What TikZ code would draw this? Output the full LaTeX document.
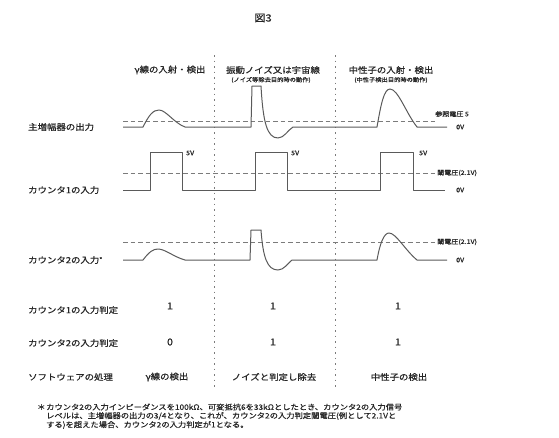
\documentclass[tikz,border=0pt]{standalone}
\usepackage{fontspec}
\setmainfont{Noto Sans CJK JP}[FakeStretch=1.12,FakeBold=0.6]
\definecolor{wavec}{HTML}{5A5A5A}
\definecolor{txt}{HTML}{262626}
\begin{document}
\begin{tikzpicture}[x=1pt,y=-1pt,
  wave/.style={draw=wavec, line width=1pt, line join=round},
  refline/.style={draw=wavec!80, line width=0.7pt, dash pattern=on 4.5pt off 3pt},
  divline/.style={draw=wavec!80, line width=0.8pt, dash pattern=on 1.5pt off 4pt},
  hdr/.style={font=\fontsize{8.4}{9}\selectfont, text=txt, inner sep=0},
  subhdr/.style={font=\fontsize{5.6}{6}\selectfont, text=txt, inner sep=0},
  lbl/.style={font=\fontsize{8.4}{9}\selectfont, text=txt, anchor=west, inner sep=0},
  val/.style={font=\fontsize{9.5}{10}\selectfont, text=txt, inner sep=0},
  volt/.style={font=\fontsize{6.3}{7}\selectfont, text=txt, anchor=west, inner sep=0},
  note/.style={font=\fontsize{7.4}{8}\selectfont, text=txt, anchor=west, inner sep=0}]
\useasboundingbox (0,0) rectangle (559,437);
\fill[white] (0,0) rectangle (559,437);

% title
\node[font=\fontsize{10}{11}\selectfont, text=txt, inner sep=0] (title) at (263,18) {図3};

% dividers
\coordinate (d1t) at (214,55); \coordinate (d1b) at (214,387);
\coordinate (d2t) at (335,55); \coordinate (d2b) at (335,387);
\draw[divline] (d1t) -- (d1b);
\draw[divline] (d2t) -- (d2b);

% column headers
\node[hdr] (h1) at (170,70) {γ線の入射・検出};
\node[hdr] (h2) at (273,70) {振動ノイズ又は宇宙線};
\node[subhdr] (h2s) at (271,80) {(ノイズ等除去目的時の動作)};
\node[hdr] (h3) at (391,70) {中性子の入射・検出};
\node[subhdr] (h3s) at (391,80) {(中性子検出目的時の動作)};

% row labels
\node[lbl] (r1) at (28,127) {主増幅器の出力};
\node[lbl] (r2) at (28,190) {カウンタ1の入力};
\node[lbl] (r3) at (28,260) {カウンタ2の入力\raisebox{0.3ex}{\fontsize{6}{6}\selectfont *}};
\node[lbl] (r4) at (28,310) {カウンタ1の入力判定};
\node[lbl] (r5) at (28,343) {カウンタ2の入力判定};
\node[lbl] (r6) at (28,377) {ソフトウェアの処理};

% --- row 1: main amplifier output
\draw[refline] (123,121) -- (437,121);
\draw[wave] (123,127) -- (143,127)
  .. controls (149,115) and (153,110) .. (159,110)
  .. controls (166,110) and (174,123) .. (185,127)
  -- (251,127) -- (252,86) -- (261,86)
  .. controls (263,122) and (267,138) .. (278,138)
  .. controls (284,138) and (288,130) .. (293,127)
  -- (377,127)
  .. controls (381,104) and (384,89) .. (390,89)
  .. controls (398,89) and (406,113) .. (417,127)
  -- (447,127);
\node[volt] (ref5) at (435,114) {参照電圧 5};
\node[volt] (zero1) at (456,127) {0V};

% --- row 2: counter 1 input
\draw[refline] (123,173) -- (437,173);
\draw[wave] (123,190) -- (150,190) -- (150,152) -- (182,152) -- (182,190)
  -- (255,190) -- (255,152) -- (287,152) -- (287,190)
  -- (380,190) -- (380,152) -- (413,152) -- (413,190) -- (445,190);
\node[volt] (v5a) at (186,153) {5V};
\node[volt] (v5b) at (291,153) {5V};
\node[volt] (v5c) at (419,153) {5V};
\node[volt] (th1) at (437,173) {閾電圧(2.1V)};
\node[volt] (zero2) at (456,190) {0V};

% --- row 3: counter 2 input
\draw[refline] (123,242) -- (437,242);
\draw[wave] (123,260) -- (143,260)
  .. controls (149,252) and (153,249) .. (158,249)
  .. controls (165,249) and (174,257) .. (185,260)
  -- (250,260) -- (251,230) -- (261,230)
  .. controls (263,257) and (267,270) .. (278,270)
  .. controls (284,270) and (288,263) .. (292,260)
  -- (377,260)
  .. controls (380,243) and (384,233) .. (389,233)
  .. controls (396,233) and (405,250) .. (417,260)
  -- (447,260);
\node[volt] (th2) at (437,242) {閾電圧(2.1V)};
\node[volt] (zero3) at (456,260) {0V};

% --- decision rows
\node[val] (a1) at (170,306) {1};
\node[val] (a2) at (273,306) {1};
\node[val] (a3) at (398,306) {1};
\node[val] (b1) at (170,342) {0};
\node[val] (b2) at (273,342) {1};
\node[val] (b3) at (398,342) {1};
\node[lbl, anchor=center] (s1) at (167,377) {γ線の検出};
\node[lbl, anchor=center] (s2) at (274,377) {ノイズと判定し除去};
\node[lbl, anchor=center] (s3) at (399,377) {中性子の検出};

% footnote
\node[note] (n0) at (37,407) {＊};
\node[note] (n1) at (46,407) {カウンタ2の入力インピーダンスを100kΩ、可変抵抗6を33kΩとしたとき、カウンタ2の入力信号};
\node[note] (n2) at (46,416) {レベルは、主増幅器の出力の3/4となり、これが、カウンタ2の入力判定閾電圧(例として2.1Vと};
\node[note] (n3) at (46,425) {する)を超えた場合、カウンタ2の入力判定が1となる。};
\end{tikzpicture}
\end{document}
